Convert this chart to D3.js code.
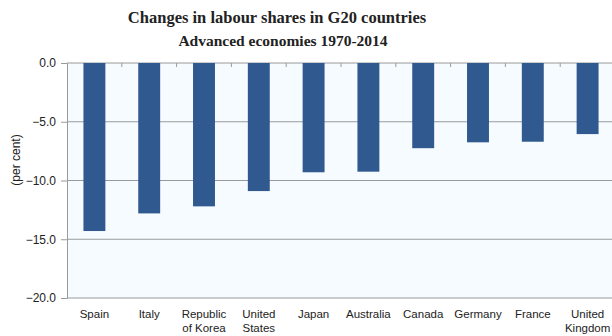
<!doctype html>
<html lang="en">
<head>
    <meta charset="UTF-8">
    <title>Changes in labour shares</title>
    <script src="https://cdn.jsdelivr.net/npm/d3@7"></script>
    <style>
        body { margin: 0; background: #fff; }
        text { font-family: "Liberation Sans", Arial, sans-serif; }
    </style>
</head>
<body>
<div class="canvas"></div>
<script>
  const countries = ['Spain', 'Italy', 'Republic of Korea', 'United States', 'Japan',
    'Australia', 'Canada', 'Germany', 'France', 'United Kingdom'];
  const labelLines = [['Spain'], ['Italy'], ['Republic', 'of Korea'], ['United', 'States'], ['Japan'],
    ['Australia'], ['Canada'], ['Germany'], ['France'], ['United', 'Kingdom']];
  const changes = [-14.3, -12.8, -12.2, -10.9, -9.3, -9.25, -7.25, -6.75, -6.7, -6.05];
  const yTicks = [0, -5, -10, -15, -20];

  const width = 612;
  const height = 336;
  // plot box
  let [mt, mr, mb, ml] = [63, -3, 38, 67];
  const graphWidth = width - mr - ml;
  const graphHeight = height - mt - mb;

  const svg = d3.select('.canvas').append('svg')
    .attr('width', width)
    .attr('height', height);

  svg.append('text')
    .attr('x', 277).attr('y', 22.5)
    .attr('text-anchor', 'middle')
    .style('font-family', '"Liberation Serif", serif')
    .style('font-weight', 'bold')
    .style('font-size', '16.5px')
    .attr('fill', '#222')
    .text('Changes in labour shares in G20 countries');

  svg.append('text')
    .attr('x', 283).attr('y', 45.5)
    .attr('text-anchor', 'middle')
    .style('font-family', '"Liberation Serif", serif')
    .style('font-weight', 'bold')
    .style('font-size', '15.5px')
    .attr('fill', '#222')
    .text('Advanced economies 1970-2014');

  const graph = svg.append('g')
    .attr('transform', `translate(${ml}, ${mt})`);

  const x = d3.scaleBand()
    .domain(countries)
    .range([0, graphWidth])
    .paddingInner(0.6)
    .paddingOuter(0.3);

  const y = d3.scaleLinear()
    .domain([0, -20])
    .range([0, graphHeight]);

  graph.append('rect')
    .attr('width', graphWidth)
    .attr('height', graphHeight)
    .attr('fill', '#f5fbff');

  // gridlines
  graph.selectAll('.grid')
    .data(yTicks)
    .enter()
    .append('line')
    .attr('x1', 0).attr('x2', graphWidth)
    .attr('y1', d => y(d)).attr('y2', d => y(d))
    .attr('stroke', '#9a9a9a')
    .attr('stroke-width', 1);

  graph.selectAll('.bar')
    .data(changes)
    .enter()
    .append('rect')
    .attr('x', (d, i) => x(countries[i]))
    .attr('y', y(0))
    .attr('width', x.bandwidth())
    .attr('height', d => y(d) - y(0))
    .attr('fill', '#30598f');

  // category ticks on the zero line
  const step = x.step();
  graph.selectAll('.ctick')
    .data(d3.range(1, countries.length))
    .enter()
    .append('line')
    .attr('x1', i => i * step).attr('x2', i => i * step)
    .attr('y1', 0).attr('y2', 4)
    .attr('stroke', '#9a9a9a');

  // y axis
  const yAxis = d3.axisLeft(y)
    .tickValues(yTicks)
    .tickSize(6)
    .tickFormat(d3.format('.1f'));

  const yAxisG = graph.append('g').call(yAxis);
  yAxisG.select('.domain').attr('stroke', '#9a9a9a');
  yAxisG.selectAll('.tick line').attr('stroke', '#9a9a9a');
  yAxisG.selectAll('text')
    .style('font-size', '12px')
    .attr('fill', '#222')
    .attr('x', -11);

  // category labels
  const labels = graph.selectAll('.clabel')
    .data(labelLines)
    .enter()
    .append('text')
    .attr('text-anchor', 'middle')
    .attr('fill', '#222')
    .style('font-size', '11.5px')
    .attr('transform', (d, i) => `translate(${x(countries[i]) + x.bandwidth() / 2}, ${graphHeight + 20})`);

  labels.selectAll('tspan')
    .data(d => d)
    .enter()
    .append('tspan')
    .attr('x', 0)
    .attr('dy', (d, j) => j === 0 ? 0 : 14)
    .text(d => d);

  svg.append('text')
    .attr('transform', 'translate(20, 160) rotate(-90)')
    .attr('text-anchor', 'middle')
    .attr('fill', '#222')
    .style('font-size', '12px')
    .text('(per cent)');
</script>
</body>
</html>
